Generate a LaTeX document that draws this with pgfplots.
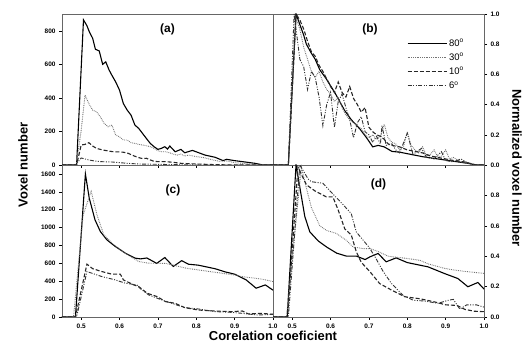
\documentclass[border=0pt]{standalone}
\usepackage{fontspec}
\setmainfont{Liberation Sans}
\usepackage{pgfplots}
\pgfplotsset{compat=1.18}
\tikzset{lbl/.style={font=\fontsize{12}{13}\selectfont\bfseries}}
\begin{document}
\begin{tikzpicture}
\path[use as bounding box] (0bp,0bp) rectangle (524bp,349bp);
\pgfplotsset{
  base/.style={scale only axis, width=211bp, anchor=south west,
    xmin=0.45, xmax=1.0, ymin=0,
    axis line style={black!60, line width=0.6bp},
    tick style={black, line width=0.5bp}, tick align=outside, major tick length=3bp,
    xtick={0.5,0.6,0.7,0.8,0.9,1.0}, xtick pos=bottom,
    ticklabel style={font=\fontsize{6.5}{7}\selectfont\bfseries},
    /pgf/number format/assume math mode=true,
    /pgf/number format/1000 sep={},
    xticklabel style={/pgf/number format/.cd, fixed, fixed zerofill, precision=1},
    legend image code/.code={\draw[##1] (0bp,0bp) -- (39bp,0bp);},
  },
  s80/.style={black, line width=1.1bp, solid},
  s30/.style={black!55, line width=0.9bp, dash pattern=on 0.8bp off 1bp},
  s10/.style={black!85, line width=1.1bp, dash pattern=on 4bp off 2bp},
  s6/.style={black!80, line width=0.9bp, dash pattern=on 4bp off 1.5bp on 1bp off 1.5bp on 1bp off 1.5bp},
}
% (a)
\begin{axis}[base, at={(62bp,184bp)}, height=151bp, ymax=900, ytick={0,200,400,600,800},
  ytick pos=left, xticklabels={}]
\addplot[s80] coordinates {(0.45,0)(0.488,0)(0.506,865)(0.515,830)(0.522,790)(0.53,755)(0.537,690)(0.547,680)(0.556,600)(0.564,615)(0.573,565)(0.58,535)(0.59,495)(0.60,446)(0.61,366)(0.62,327)(0.63,297)(0.64,238)(0.65,218)(0.66,188)(0.67,158)(0.68,129)(0.69,109)(0.70,93)(0.71,100)(0.718,109)(0.725,95)(0.731,113)(0.745,79)(0.76,93)(0.77,73)(0.79,87)(0.81,70)(0.823,59)(0.849,46)(0.87,26)(0.879,34)(0.90,26)(0.927,18)(0.953,10)(0.975,0)(1.0,0)};
\addplot[s30] coordinates {(0.45,0)(0.487,0)(0.50,208)(0.51,416)(0.52,366)(0.53,327)(0.54,317)(0.55,287)(0.56,248)(0.57,228)(0.58,238)(0.59,178)(0.60,168)(0.61,149)(0.62,149)(0.63,133)(0.64,129)(0.65,123)(0.66,119)(0.67,115)(0.68,109)(0.69,99)(0.70,85)(0.71,79)(0.72,79)(0.73,73)(0.74,65)(0.75,59)(0.76,65)(0.77,53)(0.78,59)(0.80,50)(0.82,44)(0.84,32)(0.86,22)(0.88,24)(0.90,14)(0.92,10)(0.95,4)(0.98,0)(1.0,0)};
\addplot[s10] coordinates {(0.45,0)(0.488,0)(0.50,119)(0.51,123)(0.52,133)(0.53,113)(0.54,99)(0.55,93)(0.56,88)(0.57,84)(0.58,80)(0.59,78)(0.60,78)(0.61,76)(0.62,72)(0.63,62)(0.64,52)(0.65,44)(0.66,38)(0.67,40)(0.68,30)(0.69,22)(0.70,20)(0.72,20)(0.74,16)(0.76,10)(0.80,6)(0.85,2)(0.90,0)(1.0,0)};
\addplot[s6] coordinates {(0.45,0)(0.485,0)(0.50,42)(0.51,36)(0.52,30)(0.535,24)(0.55,20)(0.58,18)(0.60,14)(0.62,10)(0.65,6)(0.70,4)(0.75,2)(0.80,0)(1.0,0)};
\node[lbl] at (rel axis cs:0.50,0.90) {(a)};
\end{axis}
% (b)
\begin{axis}[base, at={(273bp,184bp)}, height=151bp, ymax=1, ytick={0,0.2,0.4,0.6,0.8,1.0},
  ytick pos=right, yticklabel pos=right, xticklabels={},
  yticklabel style={/pgf/number format/.cd, fixed, fixed zerofill, precision=1},
  legend style={at={(rel axis cs:0.62,0.86)}, anchor=north west, draw=none, fill=none,
    font=\fontsize{9.5}{10}\selectfont, row sep=1.2bp, cells={anchor=west}}]
\addplot[s80] coordinates {(0.45,0)(0.49,0)(0.51,1.0)(0.52,0.93)(0.53,0.86)(0.537,0.80)(0.55,0.74)(0.56,0.70)(0.572,0.63)(0.589,0.57)(0.611,0.48)(0.624,0.42)(0.637,0.36)(0.654,0.30)(0.676,0.24)(0.694,0.18)(0.71,0.12)(0.724,0.13)(0.74,0.12)(0.76,0.09)(0.78,0.085)(0.80,0.075)(0.84,0.055)(0.88,0.04)(0.92,0.025)(0.96,0.01)(0.98,0.0)(1.0,0)};
\addlegendentry{80\textsuperscript{o}}
\addplot[s30] coordinates {(0.45,0)(0.49,0)(0.51,0.97)(0.52,0.90)(0.53,0.78)(0.54,0.70)(0.55,0.62)(0.56,0.58)(0.57,0.62)(0.58,0.55)(0.59,0.50)(0.60,0.47)(0.61,0.42)(0.62,0.45)(0.63,0.38)(0.64,0.33)(0.65,0.30)(0.66,0.28)(0.67,0.26)(0.68,0.24)(0.69,0.20)(0.70,0.18)(0.71,0.20)(0.72,0.17)(0.73,0.19)(0.74,0.27)(0.75,0.18)(0.76,0.15)(0.77,0.14)(0.78,0.10)(0.79,0.12)(0.80,0.22)(0.81,0.13)(0.82,0.10)(0.83,0.08)(0.84,0.12)(0.85,0.06)(0.86,0.07)(0.87,0.10)(0.88,0.05)(0.89,0.06)(0.90,0.10)(0.91,0.04)(0.92,0.05)(0.94,0.02)(0.96,0.01)(0.98,0.0)(1.0,0)};
\addlegendentry{30\textsuperscript{o}}
\addplot[s10] coordinates {(0.45,0)(0.49,0)(0.51,1.0)(0.52,0.96)(0.53,0.90)(0.54,0.82)(0.55,0.75)(0.56,0.72)(0.57,0.66)(0.58,0.62)(0.59,0.57)(0.60,0.52)(0.61,0.48)(0.62,0.55)(0.63,0.48)(0.64,0.45)(0.65,0.52)(0.66,0.44)(0.67,0.40)(0.68,0.35)(0.69,0.38)(0.70,0.25)(0.71,0.22)(0.72,0.20)(0.73,0.19)(0.74,0.17)(0.75,0.14)(0.76,0.13)(0.78,0.12)(0.80,0.10)(0.82,0.09)(0.84,0.08)(0.86,0.06)(0.88,0.05)(0.90,0.04)(0.92,0.03)(0.95,0.02)(0.98,0.0)(1.0,0)};
\addlegendentry{10\textsuperscript{o}}
\addplot[s6] coordinates {(0.45,0)(0.49,0)(0.505,1.0)(0.52,0.70)(0.53,0.65)(0.54,0.50)(0.55,0.62)(0.56,0.58)(0.57,0.45)(0.58,0.26)(0.59,0.40)(0.60,0.48)(0.61,0.25)(0.62,0.42)(0.63,0.47)(0.64,0.38)(0.65,0.30)(0.66,0.18)(0.67,0.28)(0.68,0.32)(0.69,0.22)(0.70,0.20)(0.71,0.15)(0.72,0.19)(0.73,0.14)(0.734,0.26)(0.745,0.13)(0.76,0.14)(0.77,0.10)(0.78,0.08)(0.80,0.21)(0.815,0.07)(0.837,0.11)(0.85,0.05)(0.87,0.04)(0.889,0.088)(0.90,0.03)(0.92,0.02)(0.94,0.04)(0.96,0.01)(0.98,0.0)(1.0,0)};
\addlegendentry{6\textsuperscript{o}}
\node[lbl] at (rel axis cs:0.46,0.90) {(b)};
\end{axis}
% (c)
\begin{axis}[base, at={(62bp,32bp)}, height=152bp, ymax=1700, ytick={0,200,400,600,800,1000,1200,1400,1600},
  ytick pos=left]
\addplot[s80] coordinates {(0.45,0)(0.485,0)(0.511,1600)(0.521,1330)(0.536,1087)(0.55,956)(0.567,863)(0.589,788)(0.615,714)(0.641,658)(0.655,650)(0.671,660)(0.697,600)(0.718,665)(0.74,565)(0.762,630)(0.78,590)(0.805,580)(0.849,540)(0.875,505)(0.90,479)(0.93,415)(0.956,322)(0.98,359)(1.0,300)};
\addplot[s30] coordinates {(0.45,0)(0.48,0)(0.505,1140)(0.526,1405)(0.541,1143)(0.559,919)(0.585,807)(0.615,714)(0.65,620)(0.676,602)(0.70,600)(0.72,600)(0.745,575)(0.775,545)(0.805,527)(0.84,505)(0.866,490)(0.90,470)(0.918,452)(0.953,434)(0.975,420)(1.0,396)};
\addplot[s10] coordinates {(0.45,0)(0.485,0)(0.515,591)(0.53,540)(0.554,508)(0.58,479)(0.602,479)(0.61,415)(0.637,359)(0.65,340)(0.672,266)(0.698,228)(0.72,172)(0.745,153)(0.77,105)(0.805,78)(0.849,67)(0.892,60)(0.92,67)(0.936,34)(0.97,41)(1.0,30)};
\addplot[s6] coordinates {(0.45,0)(0.488,0)(0.515,508)(0.554,452)(0.589,415)(0.615,378)(0.645,359)(0.655,314)(0.676,247)(0.71,191)(0.749,135)(0.77,105)(0.805,90)(0.849,60)(0.892,52)(0.92,41)(0.96,22)(1.0,30)};
\node[lbl] at (rel axis cs:0.526,0.83) {(c)};
\end{axis}
% (d)
\begin{axis}[base, at={(273bp,32bp)}, height=152bp, ymax=1, ytick={0,0.2,0.4,0.6,0.8},
  ytick pos=right, yticklabel pos=right,
  yticklabel style={/pgf/number format/.cd, fixed, fixed zerofill, precision=1}]
\addplot[s80] coordinates {(0.45,0)(0.487,0)(0.51,1.0)(0.533,0.66)(0.546,0.56)(0.568,0.50)(0.59,0.46)(0.616,0.42)(0.642,0.40)(0.668,0.40)(0.69,0.378)(0.703,0.396)(0.724,0.418)(0.745,0.363)(0.771,0.389)(0.80,0.358)(0.854,0.33)(0.897,0.286)(0.932,0.253)(0.958,0.199)(0.984,0.227)(1.0,0.184)};
\addplot[s30] coordinates {(0.45,0)(0.485,0)(0.524,0.986)(0.537,0.85)(0.55,0.72)(0.572,0.60)(0.589,0.57)(0.615,0.55)(0.641,0.505)(0.659,0.46)(0.685,0.45)(0.703,0.45)(0.725,0.43)(0.75,0.40)(0.80,0.385)(0.833,0.373)(0.854,0.35)(0.897,0.32)(0.92,0.31)(0.95,0.30)(1.0,0.287)};
\addplot[s10] coordinates {(0.45,0)(0.488,0)(0.515,0.986)(0.537,0.87)(0.559,0.83)(0.589,0.79)(0.606,0.79)(0.619,0.71)(0.637,0.58)(0.654,0.54)(0.667,0.43)(0.68,0.36)(0.702,0.30)(0.728,0.22)(0.759,0.177)(0.794,0.133)(0.833,0.12)(0.87,0.10)(0.90,0.08)(0.93,0.076)(0.95,0.05)(0.975,0.038)(1.0,0.035)};
\addplot[s6] coordinates {(0.45,0)(0.49,0)(0.52,1.0)(0.541,0.91)(0.55,0.89)(0.58,0.88)(0.602,0.82)(0.625,0.76)(0.654,0.68)(0.667,0.56)(0.685,0.505)(0.70,0.46)(0.715,0.40)(0.737,0.30)(0.759,0.22)(0.79,0.14)(0.816,0.11)(0.845,0.105)(0.88,0.09)(0.907,0.11)(0.92,0.116)(0.937,0.052)(0.955,0.08)(0.98,0.08)(1.0,0.065)};
\node[lbl] at (rel axis cs:0.50,0.87) {(d)};
\end{axis}
\node[rotate=90, font=\fontsize{13}{14}\selectfont\bfseries] at (23bp,184bp) {Voxel number};
\node[rotate=-90, font=\fontsize{13}{14}\selectfont\bfseries] at (517bp,181bp) {Normalized voxel number};
\node[font=\fontsize{13}{14}\selectfont\bfseries] at (273bp,13bp) {Corelation coeficient};
\end{tikzpicture}
\end{document}
